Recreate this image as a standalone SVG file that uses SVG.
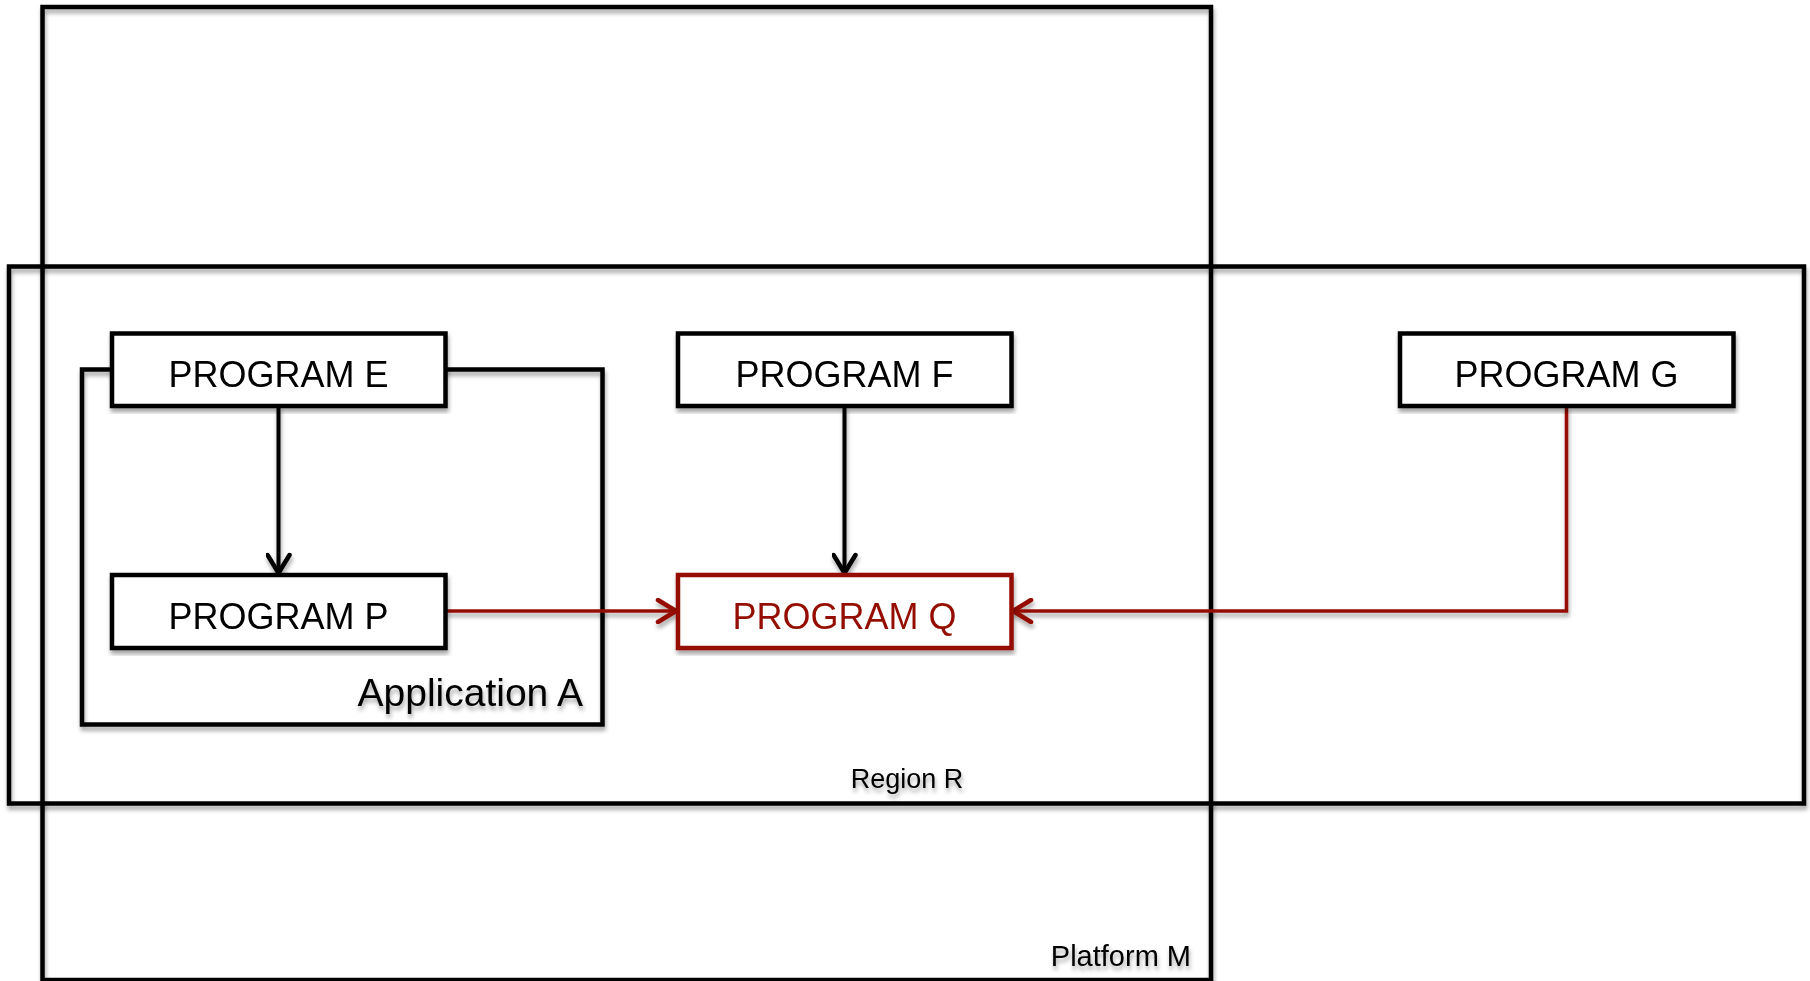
<svg xmlns="http://www.w3.org/2000/svg" width="1810" height="981" viewBox="0 0 1810 981">
<style>
.frame{fill:none;stroke:#000;stroke-width:4.5}
.box{fill:#fff;stroke:#000;stroke-width:4.5}
.boxq{fill:#fff;stroke:#941100;stroke-width:4.5}
.lbl{font-family:"Liberation Sans",Arial,sans-serif;font-size:36px;fill:#000;text-anchor:middle}
.lblq{fill:#941100}
.cap{font-family:"Liberation Sans",Arial,sans-serif;fill:#000}
.cb{fill:none;stroke:#000;stroke-width:4}
.cr{fill:none;stroke:#941100;stroke-width:3.5}
</style>
<defs>
<filter id="sh" x="-5%" y="-5%" width="110%" height="115%">
<feDropShadow dx="1" dy="4" stdDeviation="2" flood-color="#000" flood-opacity="0.35"/>
</filter>
<marker id="ab" markerUnits="userSpaceOnUse" viewBox="0 0 26 26" markerWidth="26" markerHeight="26" refX="22" refY="13" orient="auto">
<path d="M3,2 L21,13 L3,24" fill="none" stroke="#000" stroke-width="4.5" stroke-linecap="round" stroke-linejoin="round"/>
</marker>
<marker id="ar" markerUnits="userSpaceOnUse" viewBox="0 0 26 26" markerWidth="26" markerHeight="26" refX="22" refY="13" orient="auto">
<path d="M3,2 L21,13 L3,24" fill="none" stroke="#941100" stroke-width="4.5" stroke-linecap="round" stroke-linejoin="round"/>
</marker>
</defs>
<rect width="1810" height="981" fill="#fff"/>

<g id="platform-m" filter="url(#sh)">
<rect class="frame" x="42.5" y="7" width="1168.5" height="973"/>
<text class="cap" x="1191" y="966" font-size="29" text-anchor="end">Platform M</text>
</g>

<g id="region-r" filter="url(#sh)">
<rect class="frame" x="9" y="266.5" width="1795" height="537"/>
<text class="cap" x="907" y="788" font-size="27" text-anchor="middle">Region R</text>
</g>

<g id="application-a" filter="url(#sh)">
<rect class="frame" x="82" y="369.5" width="520.5" height="355"/>
<text class="cap" x="583" y="706" font-size="39" text-anchor="end">Application A</text>
</g>

<g id="connectors" filter="url(#sh)">
<line class="cb" x1="278.5" y1="406" x2="278.5" y2="574" marker-end="url(#ab)"/>
<line class="cb" x1="844.5" y1="406" x2="844.5" y2="574" marker-end="url(#ab)"/>
<line class="cr" x1="445.5" y1="611" x2="677" y2="611" marker-end="url(#ar)"/>
<polyline class="cr" points="1566.5,406 1566.5,611 1012,611" marker-end="url(#ar)"/>
</g>

<g id="program-e" filter="url(#sh)">
<rect class="box" x="112" y="333.5" width="333.5" height="72.5"/>
<text class="lbl" x="278.5" y="387">PROGRAM E</text>
</g>
<g id="program-f" filter="url(#sh)">
<rect class="box" x="678" y="333.5" width="333.5" height="72.5"/>
<text class="lbl" x="844.5" y="387">PROGRAM F</text>
</g>
<g id="program-g" filter="url(#sh)">
<rect class="box" x="1400" y="333.5" width="333.5" height="72.5"/>
<text class="lbl" x="1566.5" y="387">PROGRAM G</text>
</g>
<g id="program-p" filter="url(#sh)">
<rect class="box" x="112" y="575" width="333.5" height="73"/>
<text class="lbl" x="278.5" y="629">PROGRAM P</text>
</g>
<g id="program-q" filter="url(#sh)">
<rect class="boxq" x="678" y="575" width="333.5" height="73"/>
<text class="lbl lblq" x="844.5" y="629">PROGRAM Q</text>
</g>
</svg>
